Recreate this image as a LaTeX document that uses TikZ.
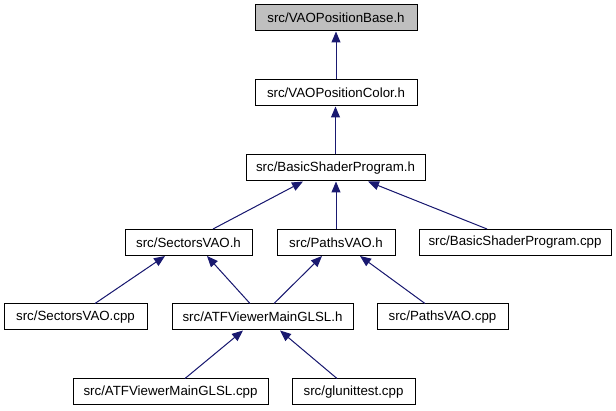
\documentclass[tikz,border=0pt]{standalone}
\usepackage{fontspec}
\setmainfont{Liberation Sans}
\usetikzlibrary{arrows.meta}
\definecolor{edgeblue}{HTML}{191970}
\definecolor{rootgray}{HTML}{BFBFBF}
\tikzset{
  filebox/.style={draw=black, line width=1pt, fill=white, minimum height=26pt, inner sep=0pt, anchor=center, font=\fontsize{13.3}{16}\selectfont},
  rootbox/.style={filebox, fill=rootgray},
  dep/.style={draw=edgeblue, line width=1pt, -{Triangle[width=9pt,length=11pt]}, fill=edgeblue}
}
\begin{document}
\begin{tikzpicture}[x=1pt,y=-1pt]
\useasboundingbox (0,0) rectangle (616,411);
\node[rootbox, minimum width=162pt] (base) at (336,18) {src/VAOPositionBase.h};
\node[filebox, minimum width=162pt] (color) at (336,93) {src/VAOPositionColor.h};
\node[filebox, minimum width=179pt] (bsp) at (335.5,168) {src/BasicShaderProgram.h};
\node[filebox, minimum width=127pt] (sectorsh) at (188.5,242.5) {src/SectorsVAO.h};
\node[filebox, minimum width=118pt] (pathsh) at (336,242.5) {src/PathsVAO.h};
\node[filebox, minimum width=192pt] (bspcpp) at (515,242.5) {src/BasicShaderProgram.cpp};
\node[filebox, minimum width=143pt] (sectorscpp) at (75.5,317) {src/SectorsVAO.cpp};
\node[filebox, minimum width=181pt] (atfh) at (262.5,317) {src/ATFViewerMainGLSL.h};
\node[filebox, minimum width=131pt] (pathscpp) at (442.5,317) {src/PathsVAO.cpp};
\node[filebox, minimum width=195pt] (atfcpp) at (170.5,392) {src/ATFViewerMainGLSL.cpp};
\node[filebox, minimum width=123pt] (glunit) at (353.5,392) {src/glunittest.cpp};

\draw[dep] (color.north) -- (base.south);
\draw[dep] (bsp.north) -- (bsp.north |- color.south);
\draw[dep] ([xshift=24.5pt]sectorsh.north) -- ([xshift=-32.5pt]bsp.south);
\draw[dep] (pathsh.north) -- (pathsh.north |- bsp.south);
\draw[dep] ([xshift=-28pt]bspcpp.north) -- ([xshift=32.5pt]bsp.south);
\draw[dep] ([xshift=19.5pt]sectorscpp.north) -- ([xshift=-23.5pt]sectorsh.south);
\draw[dep] ([xshift=-12.5pt]atfh.north) -- ([xshift=18.5pt]sectorsh.south);
\draw[dep] ([xshift=11.5pt]atfh.north) -- ([xshift=-14pt]pathsh.south);
\draw[dep] ([xshift=-17.5pt]pathscpp.north) -- ([xshift=24pt]pathsh.south);
\draw[dep] ([xshift=14.5pt]atfcpp.north) -- ([xshift=-19.5pt]atfh.south);
\draw[dep] ([xshift=-16.5pt]glunit.north) -- ([xshift=17.5pt]atfh.south);
\end{tikzpicture}
\end{document}
